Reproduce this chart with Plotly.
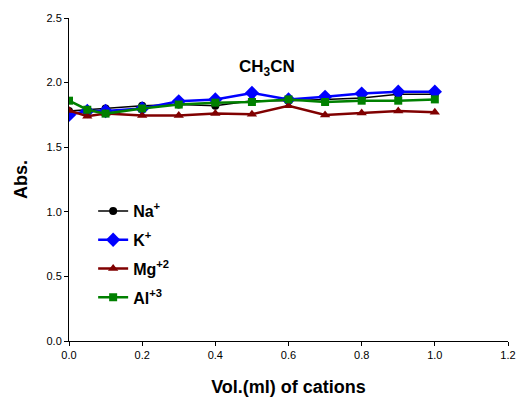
import plotly.graph_objects as go

vol = [0, 0.05, 0.1, 0.2, 0.3, 0.4, 0.5, 0.6, 0.7, 0.8, 0.9, 1.0]
na = [1.78, 1.79, 1.80, 1.82, 1.83, 1.82, 1.86, 1.86, 1.87, 1.88, 1.91, 1.91]
k = [1.75, 1.78, 1.78, 1.80, 1.855, 1.87, 1.92, 1.87, 1.89, 1.915, 1.93, 1.93]
mg = [1.785, 1.74, 1.76, 1.745, 1.745, 1.76, 1.755, 1.82, 1.75, 1.765, 1.78, 1.77]
al = [1.86, 1.79, 1.76, 1.80, 1.83, 1.845, 1.85, 1.87, 1.85, 1.86, 1.86, 1.87]

names = ["<b>Na<sup>+</sup></b>", "<b>K<sup>+</sup></b>", "<b>Mg<sup>+2</sup></b>", "<b>Al<sup>+3</sup></b>"]
series = [na, k, mg, al]
colors = ["#000000", "#0000FF", "#800000", "#008000"]
symbols = ["circle", "diamond", "triangle-up", "square"]
sizes = [8, 11, 9, 8]
widths = [1.5, 2.5, 2.5, 2.5]

fig = go.Figure()
for i, (nm, ys, c, s, sz, w) in enumerate(zip(names, series, colors, symbols, sizes, widths)):
    fig.add_trace(go.Scatter(x=vol, y=ys, name=nm, mode="lines+markers",
                             legendgroup=f"g{i}",
                             line=dict(color=c, width=w),
                             marker=dict(color=c, symbol=s, size=sz)))

fig.update_layout(
    width=527, height=400,
    margin=dict(l=69, r=19, t=18, b=59),
    paper_bgcolor="white", plot_bgcolor="white",
    font=dict(family="Liberation Sans, Arial", size=11, color="#000"),
    showlegend=True,
    legend=dict(x=0.055, y=0.455, xanchor="left", yanchor="top",
                font=dict(size=16, family="Liberation Sans, Arial"),
                traceorder="grouped", tracegroupgap=5,
                bgcolor="rgba(0,0,0,0)"),
    annotations=[dict(text="<b>CH<sub>3</sub>CN</b>", x=0.45, y=0.885,
                      xref="paper", yref="paper", showarrow=False,
                      font=dict(size=17, family="Liberation Sans, Arial"))],
)
fig.update_xaxes(range=[0, 1.2], tickvals=[0, 0.2, 0.4, 0.6, 0.8, 1.0, 1.2],
                 tickformat=".1f", showline=True, linecolor="black", linewidth=1,
                 ticks="outside", ticklen=4, tickcolor="black", showgrid=False,
                 zeroline=False, automargin=False,
                 title=dict(text="<b>Vol.(ml) of cations</b>", font=dict(size=18), standoff=20))
fig.update_yaxes(range=[0, 2.5], tickvals=[0, 0.5, 1.0, 1.5, 2.0, 2.5],
                 tickformat=".1f", showline=True, linecolor="black", linewidth=1,
                 ticks="outside", ticklen=4, tickcolor="black", showgrid=False,
                 zeroline=False, automargin=False,
                 title=dict(text="<b>Abs.</b>", font=dict(size=18), standoff=14))

fig.write_html("out.html")
